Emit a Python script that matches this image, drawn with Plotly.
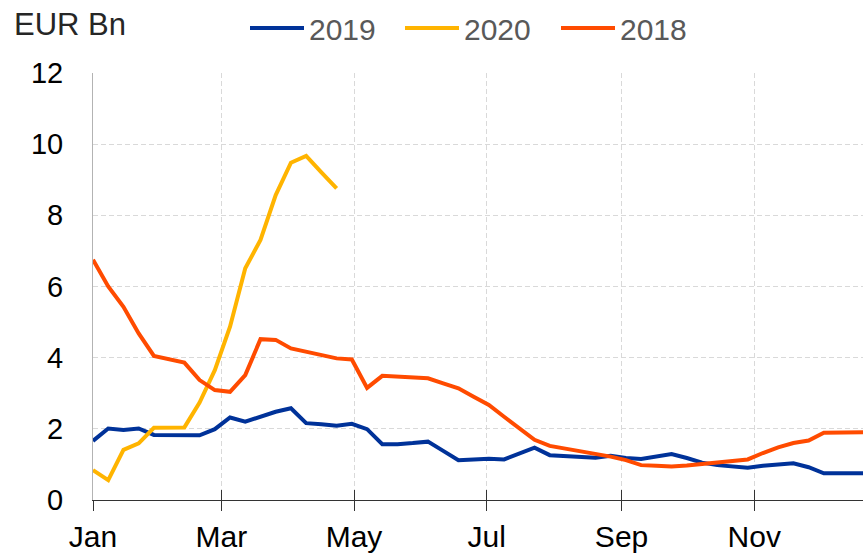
import datetime as dt
import plotly.graph_objects as go

# ---- data (weekly observations, EUR Bn) ----
series_names = ["2019", "2020", "2018"]
series_colors = ["#003299", "#FFB400", "#FF4B00"]

values_2019 = [1.66, 2.01, 1.97, 2.01, 1.83, 1.82, 1.81, 1.82, 1.99, 2.32,
               2.20, 2.34, 2.48, 2.58, 2.16, 2.13, 2.09, 2.14, 1.99, 1.57,
               1.57, 1.60, 1.64, 1.38, 1.12, 1.14, 1.16, 1.14, 1.30, 1.47,
               1.26, 1.24, 1.21, 1.19, 1.24, 1.18, 1.15, 1.22, 1.29, 1.18,
               1.05, 0.98, 0.94, 0.91, 0.96, 1.00, 1.03, 0.92, 0.75, 0.75,
               0.75, 0.75]
values_2020 = [0.84, 0.56, 1.41, 1.59, 2.03, 2.04, 2.04, 2.74, 3.65, 4.87,
               6.51, 7.31, 8.57, 9.48, 9.67, 9.21, 8.76]
values_2018 = [6.75, 6.00, 5.43, 4.68, 4.05, 3.96, 3.86, 3.37, 3.09, 3.04,
               3.51, 4.52, 4.50, 4.26, 4.17, 4.08, 3.98, 3.95, 3.15, 3.49,
               3.47, 3.45, 3.42, 3.28, 3.14, 2.90, 2.67, 2.34, 2.00, 1.69,
               1.52, 1.45, 1.38, 1.31, 1.22, 1.12, 0.98, 0.96, 0.94, 0.97,
               1.01, 1.06, 1.10, 1.14, 1.32, 1.48, 1.60, 1.67, 1.89, 1.90,
               1.90, 1.91]

base = dt.date(2019, 1, 1)
weeks = [base + dt.timedelta(days=7 * i) for i in range(52)]

y_ticks = [0, 2, 4, 6, 8, 10, 12]
x_range = ["2019-01-01", "2019-12-21"]

FONT = "Liberation Sans, Arial, sans-serif"

fig = go.Figure()
all_vals = [values_2019, values_2020, values_2018]
for name, col, vals in zip(series_names, series_colors, all_vals):
    fig.add_trace(go.Scatter(x=weeks[:len(vals)], y=vals, mode="lines", name=name,
                             line=dict(color=col, width=4), showlegend=False))

# invisible trace to activate the overlay axis (inner tick marks)
fig.add_trace(go.Scatter(x=[weeks[0]], y=[None], xaxis="x2", showlegend=False,
                         hoverinfo="skip", mode="lines"))

L, R, T, B = 93, 0, 73, 53
W, H = 863, 553
pw, ph = W - L - R, H - T - B

def px(x):
    return (x - L) / pw

def py(y):
    return (H - B - y) / ph

GRID = "#d9d9d9"
fig.update_layout(
    width=W, height=H,
    margin=dict(l=L, r=R, t=T, b=B, pad=0),
    paper_bgcolor="white", plot_bgcolor="white",
    font=dict(family=FONT, color="#000000"),
    xaxis=dict(type="date", range=x_range, tick0="2019-01-01", dtick="M2",
               tickformat="%b", showgrid=True, gridcolor=GRID, griddash="5px,3px",
               gridwidth=1, showline=True, linecolor="#333333", linewidth=1,
               ticks="outside", ticklen=10, tickcolor="#333333", tickwidth=1,
               tickfont=dict(size=30, color="#000000"), ticklabelstandoff=0,
               zeroline=False, automargin=False),
    xaxis2=dict(type="date", overlaying="x", matches="x", anchor="y", side="bottom",
                tick0="2019-01-01", dtick="M2", ticks="inside", ticklen=10,
                tickcolor="#333333", tickwidth=1, showticklabels=False,
                showgrid=False, showline=False, zeroline=False, automargin=False),
    yaxis=dict(range=[0, 12], tickvals=y_ticks, showgrid=True, gridcolor=GRID,
               griddash="5px,3px", gridwidth=1, showline=True, linecolor="#b3b3b3",
               linewidth=1, ticks="", tickfont=dict(size=29, color="#000000"),
               ticklabelstandoff=23, zeroline=False, automargin=False),
    hovermode=False,
)

# unit label
fig.add_annotation(text="EUR Bn", xref="paper", yref="paper", x=px(12), y=py(24),
                   xanchor="left", yanchor="middle", showarrow=False,
                   font=dict(family=FONT, size=31, color="#262626"))

# legend drawn manually
leg_x = [250, 405, 561]
leg_y = 28
for name, col, x0 in zip(series_names, series_colors, leg_x):
    fig.add_shape(type="line", xref="paper", yref="paper", x0=px(x0), x1=px(x0 + 54),
                  y0=py(leg_y), y1=py(leg_y), line=dict(color=col, width=4))
    fig.add_annotation(text=name, xref="paper", yref="paper", x=px(x0 + 57), y=py(leg_y + 1),
                       xanchor="left", yanchor="middle", showarrow=False,
                       font=dict(family=FONT, size=30, color="#595959"))

fig.write_html("out.html", config={"displayModeBar": False},
               post_script="document.body.style.margin='0';")
